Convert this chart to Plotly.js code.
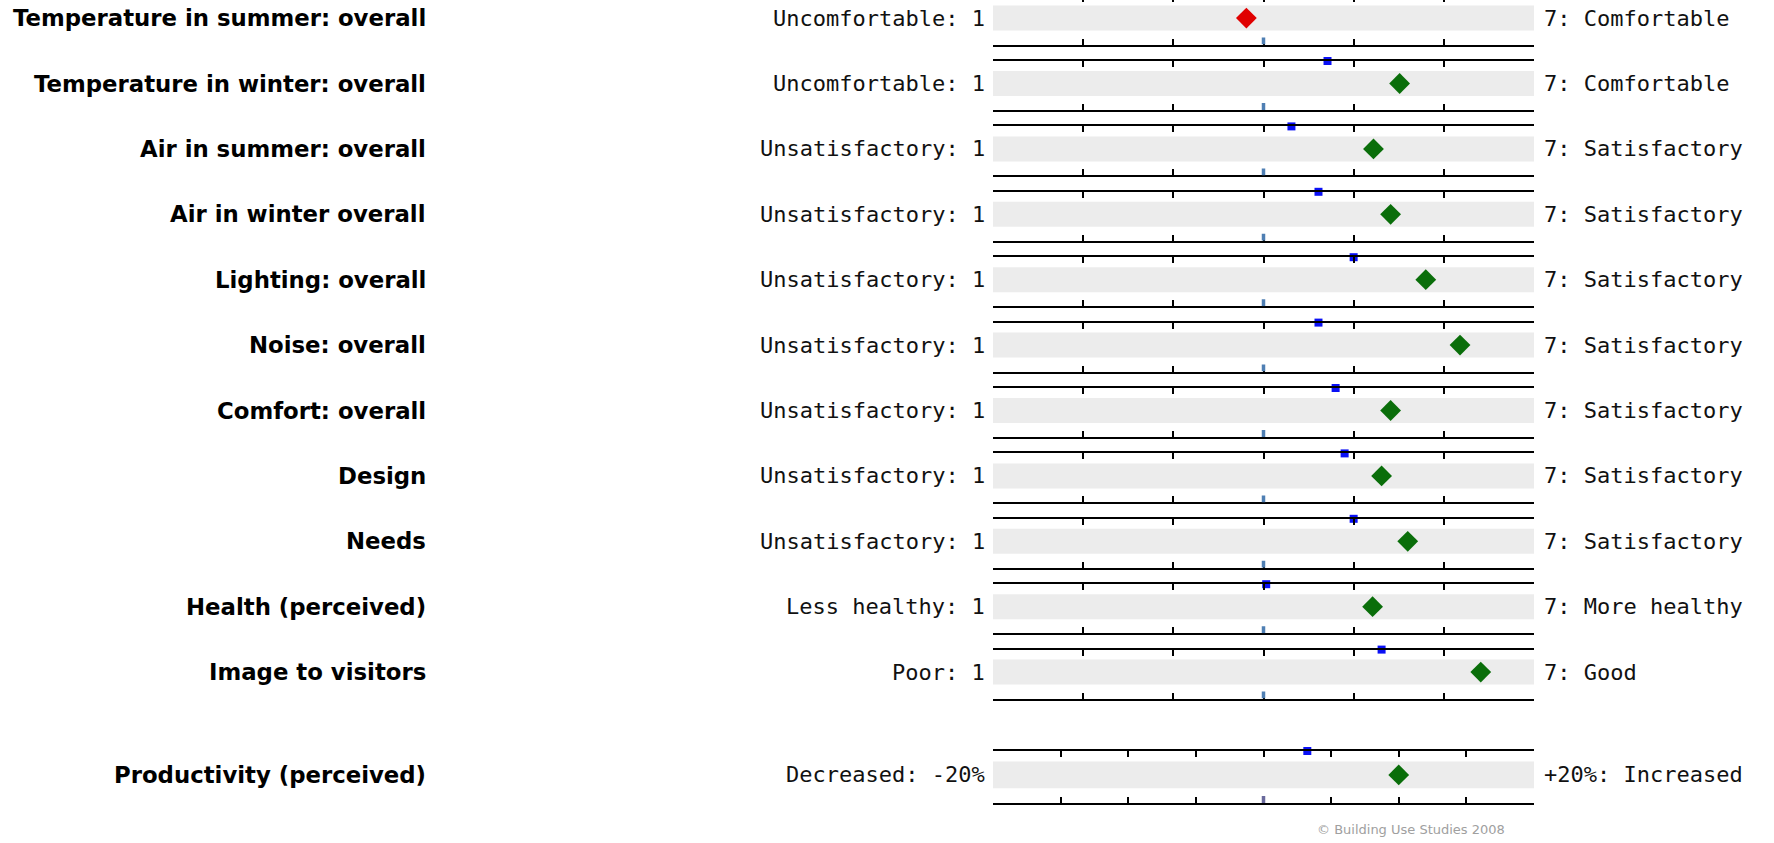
<!DOCTYPE html>
<html>
<head>
<meta charset="utf-8">
<script src="https://cdn.plot.ly/plotly-3.0.1.min.js"></script>
<style>
  html, body { margin: 0; padding: 0; background: #ffffff; overflow: hidden; }
  #chart { position: absolute; left: 0; top: -6px; width: 1774px; height: 849px; }
</style>
</head>
<body>
<div id="chart"></div>
<script>
// ---------------- data ----------------
const questions = [
  "Temperature in summer: overall",
  "Temperature in winter: overall",
  "Air in summer: overall",
  "Air in winter overall",
  "Lighting: overall",
  "Noise: overall",
  "Comfort: overall",
  "Design",
  "Needs",
  "Health (perceived)",
  "Image to visitors",
  "Productivity (perceived)"
];
const lowLabels = [
  "Uncomfortable: 1", "Uncomfortable: 1",
  "Unsatisfactory: 1", "Unsatisfactory: 1", "Unsatisfactory: 1", "Unsatisfactory: 1",
  "Unsatisfactory: 1", "Unsatisfactory: 1", "Unsatisfactory: 1",
  "Less healthy: 1", "Poor: 1", "Decreased: -20%"
];
const highLabels = [
  "7: Comfortable", "7: Comfortable",
  "7: Satisfactory", "7: Satisfactory", "7: Satisfactory", "7: Satisfactory",
  "7: Satisfactory", "7: Satisfactory", "7: Satisfactory",
  "7: More healthy", "7: Good", "+20%: Increased"
];
// building mean scores (diamonds)
const means      = [3.81, 5.51, 5.22, 5.41, 5.80, 6.18, 5.41, 5.31, 5.60, 5.21, 6.41, 10.0];
// benchmark values (blue squares on the upper scale line)
const benchmarks = [null, 4.71, 4.31, 4.61, 5.00, 4.61, 4.80, 4.90, 5.00, 4.03, 5.31, 3.24];
// scales
const scaleMin   = [1, 1, 1, 1, 1, 1, 1, 1, 1, 1, 1, -20];
const scaleMax   = [7, 7, 7, 7, 7, 7, 7, 7, 7, 7, 7, 20];
const scaleStep  = [1, 1, 1, 1, 1, 1, 1, 1, 1, 1, 1, 5];
const copyright  = "© Building Use Studies 2008";

// ---------------- layout ----------------
const W = 1774, H = 849;      // figure (div shifted up by 6px)
const OFF = 6;
const px = x => x / W;
const py = y => 1 - y / H;    // figure pixel (from top) -> paper
const xDom = [px(993), px(1534)];
const bandLo = 14 / 49, bandHi = 39 / 49, bandMid = (bandLo + bandHi) / 2;

const RED = "#e00000", GREEN = "#0a6e0a", BLUE = "#0a10f5";
const MID_ROW = "#4f7fb3", MID_PROD = "#6a6a9c";

const layout = {
  width: W, height: H,
  margin: {l: 0, r: 0, t: 0, b: 0, pad: 0},
  paper_bgcolor: "#ffffff",
  plot_bgcolor: "rgba(0,0,0,0)",
  showlegend: false,
  shapes: [],
  annotations: []
};
const traces = [];

questions.forEach((q, i) => {
  const n = i + 1;
  const isProd = i === questions.length - 1;
  const xa = "xaxis" + (n === 1 ? "" : n), ya = "yaxis" + (n === 1 ? "" : n);
  const xr = "x" + (n === 1 ? "" : n), yr = "y" + (n === 1 ? "" : n);
  let top, bot;
  if (!isProd) { bot = 50.6 + 65.4 * i; top = bot - 49; }
  else { top = 751 + OFF; bot = 803 + OFF; }

  const ticks = [];
  for (let k = 0; scaleMin[i] + k * scaleStep[i] <= scaleMax[i] + 1e-9; k++) ticks.push(scaleMin[i] + k * scaleStep[i]);
  const eps = (scaleMax[i] - scaleMin[i]) * 1e-4;

  layout[xa] = {
    domain: xDom, anchor: yr, range: [scaleMin[i] - eps, scaleMax[i] + eps],
    tickvals: ticks, showticklabels: false,
    ticks: "inside", ticklen: 6, tickwidth: 2, tickcolor: "#000000",
    showline: true, linewidth: 2, linecolor: "#000000", mirror: "ticks",
    showgrid: false, zeroline: false, fixedrange: true
  };
  layout[ya] = {
    domain: [py(bot), py(top)], anchor: xr, range: [0, 1],
    visible: false, fixedrange: true
  };

  // grey band
  layout.shapes.push({
    type: "rect", xref: xr + " domain", yref: yr,
    x0: 0, x1: 1, y0: bandLo, y1: bandHi,
    fillcolor: "#ececec", line: {width: 0}, layer: "below"
  });
  // midpoint tick in blue on the lower scale line
  const mid = (scaleMin[i] + scaleMax[i]) / 2;
  layout.shapes.push({
    type: "line", xref: xr, yref: yr, x0: mid, x1: mid,
    ysizemode: "pixel", yanchor: 0, y0: 0, y1: 7,
    line: {color: isProd ? MID_PROD : MID_ROW, width: 3.5}, layer: "above"
  });

  // diamond
  traces.push({
    type: "scatter", mode: "markers", xaxis: xr, yaxis: yr,
    x: [means[i]], y: [bandMid], cliponaxis: false, hoverinfo: "x",
    marker: {symbol: "diamond", size: 16, color: means[i] < mid ? RED : GREEN, line: {width: 0}}
  });
  // benchmark square
  if (benchmarks[i] !== null) {
    traces.push({
      type: "scatter", mode: "markers", xaxis: xr, yaxis: yr,
      x: [benchmarks[i]], y: [1], cliponaxis: false, hoverinfo: "x",
      marker: {symbol: "square", size: 8, color: BLUE, line: {width: 0}}
    });
  }

  // labels
  layout.annotations.push({
    xref: "paper", yref: yr, x: px(428), y: bandMid,
    xanchor: "right", yanchor: "middle", showarrow: false, text: q,
    font: {family: "DejaVu Sans", size: 22.8, weight: 700, color: "#000000"}
  });
  layout.annotations.push({
    xref: "paper", yref: yr, x: px(987), y: bandMid,
    xanchor: "right", yanchor: "middle", showarrow: false, text: lowLabels[i],
    font: {family: "DejaVu Sans Mono", size: 22, color: "#111111"}
  });
  layout.annotations.push({
    xref: "paper", yref: yr, x: px(1542), y: bandMid,
    xanchor: "left", yanchor: "middle", showarrow: false, text: highLabels[i],
    font: {family: "DejaVu Sans Mono", size: 22, color: "#111111"}
  });
});

layout.annotations.push({
  xref: "paper", yref: "paper", x: px(1507), y: py(829 + OFF),
  xanchor: "right", yanchor: "middle", showarrow: false, text: copyright,
  font: {family: "DejaVu Sans", size: 13, color: "#a0a0a0"}
});

Plotly.newPlot("chart", traces, layout, {displayModeBar: false, staticPlot: true});
</script>
</body>
</html>
